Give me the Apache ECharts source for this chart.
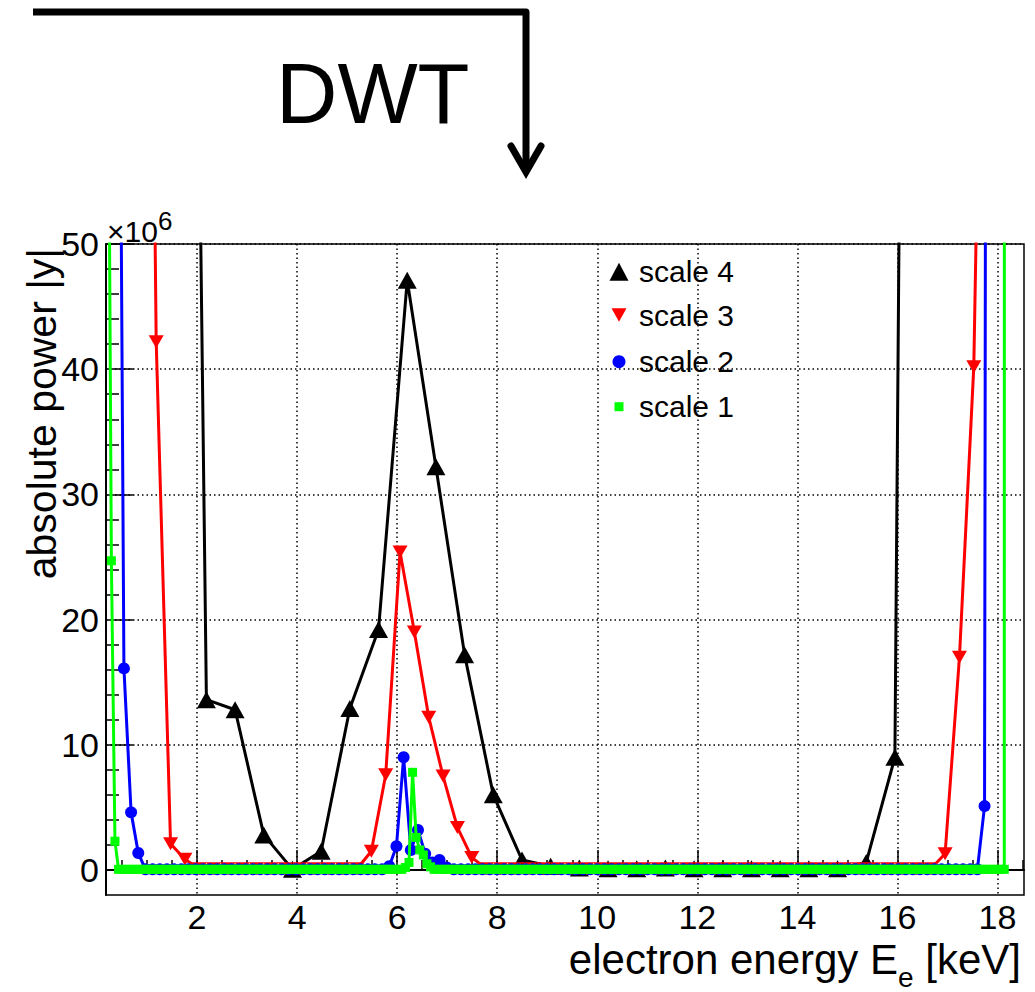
<!DOCTYPE html>
<html>
<head>
<meta charset="utf-8">
<title>DWT scales – absolute power vs. electron energy</title>
<script src="https://cdn.jsdelivr.net/npm/echarts@6/dist/echarts.min.js"></script>
<style>
  html, body { margin: 0; padding: 0; background: #ffffff; }
  #chart { width: 1035px; height: 992px; }
</style>
</head>
<body>
<div id="chart"></div>
<script>
// Energy window of the wavelet coefficients (keV) and power axis range (x10^6)
const energyRange = [0.18, 18.53];
const powerRange = [-2, 50];

// Axis tick positions and labels
const energyTicks = [2, 4, 6, 8, 10, 12, 14, 16, 18];
const energyMinorTicks = [0.5, 1, 1.5, 2.5, 3, 3.5, 4.5, 5, 5.5, 6.5, 7, 7.5, 8.5, 9, 9.5,
  10.5, 11, 11.5, 12.5, 13, 13.5, 14.5, 15, 15.5, 16.5, 17, 17.5, 18.5];
const powerTicks = [0, 10, 20, 30, 40, 50];
const powerMinorTicks = [2, 4, 6, 8, 12, 14, 16, 18, 22, 24, 26, 28, 32, 34, 36, 38, 42, 44, 46, 48];

const seriesNames = ['scale 4', 'scale 3', 'scale 2', 'scale 1'];

// |y| per coefficient (x10^6), one entry per bin of each scale; null = off the plotted range
const scale4Power = [
  null, null, 200, 13.6, 12.8, 2.8, 0.05, 1.5, 12.9, 19.2, 47.1, 32.2, 17.2, 6.0, 0.8, 0.3,
  0.15, 0.1, 0.1, 0.15, 0.1, 0.1, 0.1, 0.1, 0.1, 0.1, 0.6, 9.0, 300, null, null, null
];

const scale3Power = [
  null, null, 150, 42.2, 2.1, 0.85, 0.1, 0.1, 0.1, 0.1, 0.1, 0.1, 0.1, 0.1, 0.1, 0.1,
  0.1, 0.1, 1.5, 7.6, 25.4, 19.0, 12.2, 7.5, 3.4, 1.0, 0.1, 0.1, 0.1, 0.1, 0.1, 0.1,
  0.1, 0.1, 0.1, 0.1, 0.1, 0.1, 0.1, 0.1, 0.1, 0.1, 0.1, 0.1, 0.1, 0.1, 0.1, 0.1,
  0.1, 0.1, 0.1, 0.1, 0.1, 0.1, 0.1, 0.1, 0.1, 0.1, 1.3, 17.0, 40.2, 105, null, null
];

const scale2Power = [
  null, 110, 16.1, 4.6, 1.35, 0.05, 0.05, 0.05, 0.05, 0.05, 0.05, 0.05, 0.05, 0.05, 0.05, 0.05,
  0.05, 0.05, 0.05, 0.05, 0.05, 0.05, 0.05, 0.05, 0.05, 0.05, 0.05, 0.05, 0.05, 0.05, 0.05, 0.05,
  0.05, 0.05, 0.05, 0.05, 0.05, 0.05, 0.05, 0.3, 1.9, 9.0, 1.6, 3.2, 1.3, 0.6, 0.8, 0.2,
  0.05, 0.05, 0.05, 0.05, 0.05, 0.05, 0.05, 0.05, 0.05, 0.05, 0.05, 0.05, 0.05, 0.05, 0.05, 0.05,
  0.05, 0.05, 0.05, 0.05, 0.05, 0.05, 0.05, 0.05, 0.05, 0.05, 0.05, 0.05, 0.05, 0.05, 0.05, 0.05,
  0.05, 0.05, 0.05, 0.05, 0.05, 0.05, 0.05, 0.05, 0.05, 0.05, 0.05, 0.05, 0.05, 0.05, 0.05, 0.05,
  0.05, 0.05, 0.05, 0.05, 0.05, 0.05, 0.05, 0.05, 0.05, 0.05, 0.05, 0.05, 0.05, 0.05, 0.05, 0.05,
  0.05, 0.05, 0.05, 0.05, 0.05, 0.05, 0.05, 0.05, 0.05, 0.05, 5.1, 400, null, null, null, null
];

const scale1Power = [
  75, 24.7, 2.3, 0.05, 0.05, 0.05, 0.05, 0.05, 0.05, 0.05, 0.05, 0.05, 0.05, 0.05, 0.05, 0.05,
  0.05, 0.05, 0.05, 0.05, 0.05, 0.05, 0.05, 0.05, 0.05, 0.05, 0.05, 0.05, 0.05, 0.05, 0.05, 0.05,
  0.05, 0.05, 0.05, 0.05, 0.05, 0.05, 0.05, 0.05, 0.05, 0.05, 0.05, 0.05, 0.05, 0.05, 0.05, 0.05,
  0.05, 0.05, 0.05, 0.05, 0.05, 0.05, 0.05, 0.05, 0.05, 0.05, 0.05, 0.05, 0.05, 0.05, 0.05, 0.05,
  0.05, 0.05, 0.05, 0.05, 0.05, 0.05, 0.05, 0.05, 0.05, 0.05, 0.05, 0.05, 0.05, 0.05, 0.05, 0.05,
  0.05, 0.05, 0.05, 0.2, 0.6, 7.8, 2.6, 1.6, 1.2, 0.5, 0.25, 0.05, 0.05, 0.05, 0.05, 0.05,
  0.05, 0.05, 0.05, 0.05, 0.05, 0.05, 0.05, 0.05, 0.05, 0.05, 0.05, 0.05, 0.05, 0.05, 0.05, 0.05,
  0.05, 0.05, 0.05, 0.05, 0.05, 0.05, 0.05, 0.05, 0.05, 0.05, 0.05, 0.05, 0.05, 0.05, 0.05, 0.05,
  0.05, 0.05, 0.05, 0.05, 0.05, 0.05, 0.05, 0.05, 0.05, 0.05, 0.05, 0.05, 0.05, 0.05, 0.05, 0.05,
  0.05, 0.05, 0.05, 0.05, 0.05, 0.05, 0.05, 0.05, 0.05, 0.05, 0.05, 0.05, 0.05, 0.05, 0.05, 0.05,
  0.05, 0.05, 0.05, 0.05, 0.05, 0.05, 0.05, 0.05, 0.05, 0.05, 0.05, 0.05, 0.05, 0.05, 0.05, 0.05,
  0.05, 0.05, 0.05, 0.05, 0.05, 0.05, 0.05, 0.05, 0.05, 0.05, 0.05, 0.05, 0.05, 0.05, 0.05, 0.05,
  0.05, 0.05, 0.05, 0.05, 0.05, 0.05, 0.05, 0.05, 0.05, 0.05, 0.05, 0.05, 0.05, 0.05, 0.05, 0.05,
  0.05, 0.05, 0.05, 0.05, 0.05, 0.05, 0.05, 0.05, 0.05, 0.05, 0.05, 0.05, 0.05, 0.05, 0.05, 0.05,
  0.05, 0.05, 0.05, 0.05, 0.05, 0.05, 0.05, 0.05, 0.05, 0.05, 0.05, 0.05, 0.05, 0.05, 0.05, 0.05,
  0.05, 0.05, 0.05, 0.05, 0.05, 0.05, 0.05, 0.05, 0.05, 0.05, 0.05, 2000, null, null, null, null
];

const FONT = '"Liberation Sans", Arial, Helvetica, sans-serif';

// Each coefficient sits at the centre of its energy bin; empty bins are left out
function toPoints(values) {
  const n = values.length;
  const width = (energyRange[1] - energyRange[0]) / n;
  const pts = [];
  values.forEach((v, i) => {
    if (v !== null) pts.push([energyRange[0] + (i + 0.5) * width, v]);
  });
  return pts;
}

const styles = [
  { color: '#000000', symbol: 'triangle', size: [19, 17], rotate: 0 },
  { color: '#ff0000', symbol: 'triangle', size: [15, 13], rotate: 180 },
  { color: '#0000ff', symbol: 'circle', size: 12, rotate: 0 },
  { color: '#00ff00', symbol: 'rect', size: 9, rotate: 0 }
];
const powers = [scale4Power, scale3Power, scale2Power, scale1Power];

const series = powers.map((vals, k) => ({
  name: seriesNames[k],
  type: 'line',
  data: toPoints(vals),
  symbol: styles[k].symbol,
  symbolSize: styles[k].size,
  symbolRotate: styles[k].rotate,
  showSymbol: true,
  showAllSymbol: true,
  lineStyle: { color: styles[k].color, width: 3 },
  itemStyle: { color: styles[k].color },
  clip: true,
  z: 2 + k,
  silent: true,
  animation: false,
  emphasis: { disabled: true }
}));

// Legend entries: one small legend box per series so each marker keeps its own size
const legendIcons = [
  { icon: 'triangle', w: 19, h: 18, cy: 271.7 },
  { icon: 'path://M0,0L10,0L5,9Z', w: 15, h: 14, cy: 315 },
  { icon: 'circle', w: 13, h: 13, cy: 361.7 },
  { icon: 'rect', w: 9, h: 9, cy: 406.7 }
];
const legends = legendIcons.map((d, k) => ({
  show: true,
  orient: 'vertical',
  left: 619 - d.w / 2,
  top: d.cy - 15,
  padding: 0,
  itemWidth: d.w,
  itemHeight: d.h,
  itemGap: 0,
  selectedMode: false,
  data: [{ name: seriesNames[k], icon: d.icon, itemStyle: { color: styles[k].color } }],
  textStyle: {
    fontSize: 30, color: '#000', fontFamily: FONT,
    padding: [0, 0, 0, 639 - (619 + d.w / 2 + 5)]
  }
}));

const tickLine = { color: '#000', width: 1.5 };
const gridDots = { color: '#000', width: 1.5, type: [1.5, 3] };

const chart = echarts.init(document.getElementById('chart'), null, { renderer: 'svg' });

chart.setOption({
  backgroundColor: '#ffffff',
  animation: false,
  grid: {
    left: 106, right: 11, top: 244, bottom: 97,
    show: true, borderColor: '#000', borderWidth: 1.5,
    containLabel: false, outerBoundsMode: 'none'
  },
  legend: legends,
  xAxis: [
    {
      type: 'value', min: energyRange[0], max: energyRange[1], position: 'bottom',
      splitNumber: 9,
      axisLine: { show: true, lineStyle: { color: '#000', width: 2 } },
      axisTick: { show: true, inside: true, length: 20, customValues: energyTicks, lineStyle: tickLine },
      axisLabel: {
        show: true, customValues: energyTicks, margin: 5,
        fontSize: 34, color: '#000', fontFamily: FONT
      },
      splitLine: { show: true, lineStyle: gridDots }
    },
    {
      type: 'value', min: energyRange[0], max: energyRange[1], position: 'bottom', offset: 0,
      axisLine: { show: false },
      axisTick: { show: true, inside: true, length: 10, customValues: energyMinorTicks, lineStyle: tickLine },
      axisLabel: { show: false },
      splitLine: { show: false }
    }
  ],
  yAxis: [
    {
      type: 'value', min: powerRange[0], max: powerRange[1], position: 'left',
      splitNumber: 5,
      axisLine: { show: true, lineStyle: { color: '#000', width: 2 } },
      axisTick: { show: true, inside: true, length: 27, customValues: powerTicks, lineStyle: tickLine },
      axisLabel: {
        show: true, customValues: powerTicks, margin: 7,
        fontSize: 34, color: '#000', fontFamily: FONT
      },
      splitLine: { show: true, lineStyle: gridDots }
    },
    {
      type: 'value', min: powerRange[0], max: powerRange[1], position: 'left', offset: 0,
      axisLine: { show: false },
      axisTick: { show: true, inside: true, length: 13, customValues: powerMinorTicks, lineStyle: tickLine },
      axisLabel: { show: false },
      splitLine: { show: false }
    }
  ],
  series: series,
  graphic: [
    // transform arrow above the spectrum
    {
      type: 'polyline', silent: true,
      shape: { points: [[33, 12], [526, 12], [526, 172]] },
      style: { stroke: '#000', lineWidth: 7, fill: null, lineJoin: 'round', lineCap: 'butt' }
    },
    {
      type: 'polyline', silent: true,
      shape: { points: [[511, 146], [526, 172], [541, 146]] },
      style: { stroke: '#000', lineWidth: 7, fill: null, lineJoin: 'miter', lineCap: 'round' }
    },
    {
      type: 'text', silent: true, x: 276, y: 93,
      style: { text: 'DWT', fontSize: 85, fontFamily: FONT, fill: '#000', align: 'left', verticalAlign: 'middle' }
    },
    // axis exponent
    {
      type: 'text', silent: true, x: 107, y: 231,
      style: {
        text: '×10{sup|6}', fontSize: 30, fontFamily: FONT, fill: '#000',
        align: 'left', verticalAlign: 'middle',
        rich: { sup: { fontSize: 26, fontFamily: FONT, fill: '#000', padding: [0, 0, 20, 0] } }
      }
    },
    // axis titles
    {
      type: 'text', silent: true, x: 42, y: 248, rotation: Math.PI / 2,
      style: {
        text: 'absolute power |y|', fontSize: 41, fontFamily: FONT, fill: '#000',
        align: 'right', verticalAlign: 'middle'
      }
    },
    {
      type: 'text', silent: true, x: 1021, y: 959,
      style: {
        text: 'electron energy E{sub|e} [keV]', fontSize: 42, fontFamily: FONT, fill: '#000',
        align: 'right', verticalAlign: 'middle',
        rich: { sub: { fontSize: 28, fontFamily: FONT, fill: '#000', padding: [36, 0, 0, 0] } }
      }
    }
  ]
});
</script>
</body>
</html>
